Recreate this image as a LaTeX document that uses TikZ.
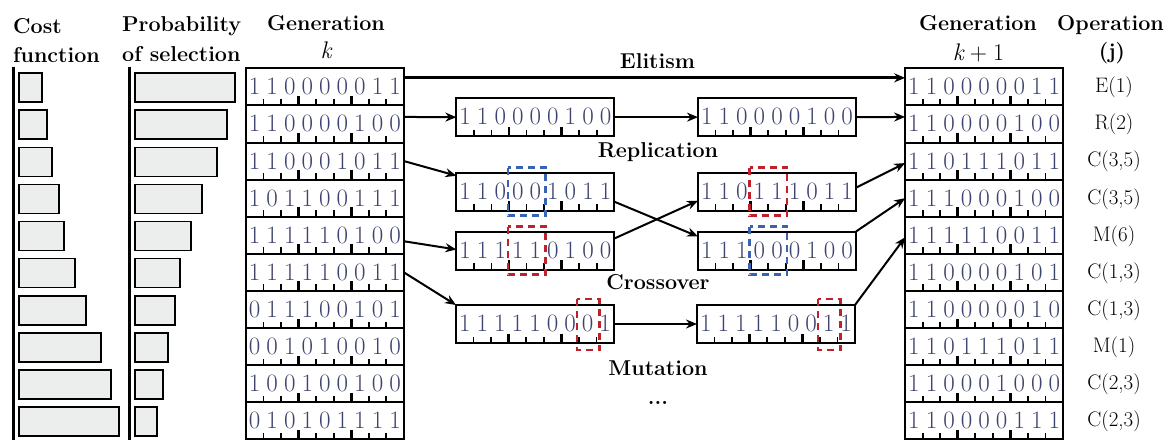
\documentclass[tikz,border=0pt]{standalone}
\usetikzlibrary{arrows.meta,calc,backgrounds}

\definecolor{digit}{RGB}{62,68,112}
\definecolor{barfill}{RGB}{236,237,237}
\definecolor{swapfill}{RGB}{196,199,229}
\definecolor{flipfill}{RGB}{172,212,164}
\definecolor{cutred}{RGB}{190,32,44}
\definecolor{cutblue}{RGB}{56,98,178}

\tikzset{
  chrom/.style={draw, line width=2pt, rectangle, minimum width=158pt,
    minimum height=37.1pt, inner sep=0pt, outer sep=0pt},
  midchrom/.style={chrom, minimum height=38pt},
  bit/.style={text=digit, font=\fontsize{25}{25}\selectfont, inner sep=0pt, anchor=base},
  tick/.style={line width=1.8pt},
  bar/.style={draw, fill=barfill, line width=1.8pt},
  axisline/.style={line width=3pt},
  head/.style={font=\bfseries\fontsize{21.5}{25}\selectfont, inner sep=0pt},
  mathhead/.style={font=\itshape\fontsize{24}{26}\selectfont, inner sep=0pt, anchor=base},
  opname/.style={font=\fontsize{21}{24}\selectfont, inner sep=0pt, anchor=base},
  stage/.style={font=\bfseries\fontsize{21.5}{25}\selectfont, inner sep=0pt, anchor=base},
  link/.style={line width=2pt, -{Stealth[length=11pt,width=9pt]}},
  cutA/.style={draw=cutred, line width=2.6pt, dash pattern=on 7pt off 5pt},
  cutB/.style={draw=cutblue, line width=2.6pt, dash pattern=on 7pt off 5pt},
}

% a chromosome: framed box, nine bits and a ruler of ticks along its bottom edge
\newcommand\chromosome[4][chrom]{%
  \node[#1] (#2) at (#3) {};
  \foreach \b [count=\i from 0] in {#4}
    \node[bit] at ($(#2.north west)+(8.8+17.55*\i,26.5)$) {\b};
  \foreach \j in {1,2,4,5,7,8}
    \draw[tick] ($(#2.south west)+(17.55*\j,0)$) -- ++(0,-6.5);
  \foreach \j in {3,6}
    \draw[tick, line width=2.8pt] ($(#2.south west)+(17.55*\j,0)$) -- ++(0,-9.5);
}

% shaded cell number #2 (from 0) inside chromosome #1
\newcommand\cellfill[3]{%
  \fill[#3] ($(#1.north west)+(17.55*#2+1,1)$) rectangle ($(#1.south west)+(17.55*#2+16.55,-1)$);
}

\begin{document}
\begin{tikzpicture}[x=1pt,y=-1pt]
\useasboundingbox (0,0) rectangle (1172,439);
\fill[white] (0,0) rectangle (1172,439);

% column headers
\node[head, anchor=base west] (hcostA) at (13,33) {Cost};
\node[head, anchor=base west] (hcostB) at (13,62.5) {function};
\node[head, anchor=base west] (hprobA) at (122,31) {Probability};
\node[head, anchor=base west] (hprobB) at (122,61.5) {of selection};
\node[head, anchor=base] (hgenA) at (326,30.7) {Generation};
\node[mathhead] (hgenB) at (326,58.5) {k};
\node[head, anchor=base] (hnextA) at (978,30.7) {Generation};
\node[mathhead] (hnextB) at (978.5,60) {k\hspace{0.25em}\upshape+\hspace{0.25em}1};
\node[head, anchor=base] (hopA) at (1110.5,30) {Operation};
\node[head, anchor=base] (hopB) at (1112,58) {(j)};

% cost and probability bar charts
\draw[axisline] (13.5,66.5) -- (13.5,441);
\draw[axisline] (129,66.5) -- (129,441);
\foreach \w [count=\i from 0] in {42,47,52,59,64,75,86,101,111,119}
  \draw[bar] (19,73.3+37.05*\i) rectangle (\w,102.3+37.05*\i);
\foreach \w [count=\i from 0] in {235,227,217,202,191,180,175,168,163,157}
  \draw[bar] (134.7,73.3+37.05*\i) rectangle (\w,102.3+37.05*\i);

% generation k
\chromosome{k1}{324.85,86.85}{1,1,0,0,0,0,0,1,1}
\chromosome{k2}{324.85,123.95}{1,1,0,0,0,0,1,0,0}
\chromosome{k3}{324.85,161.05}{1,1,0,0,0,1,0,1,1}
\chromosome{k4}{324.85,198.15}{1,0,1,1,0,0,1,1,1}
\chromosome{k5}{324.85,235.25}{1,1,1,1,1,0,1,0,0}
\chromosome{k6}{324.85,272.35}{1,1,1,1,1,0,0,1,1}
\chromosome{k7}{324.85,309.45}{0,1,1,1,0,0,1,0,1}
\chromosome{k8}{324.85,346.55}{0,0,1,0,1,0,0,1,0}
\chromosome{k9}{324.85,383.65}{1,0,0,1,0,0,1,0,0}
\chromosome{k10}{324.85,420.75}{0,1,0,1,0,1,1,1,1}

% generation k+1
\chromosome{n1}{984.15,86.85}{1,1,0,0,0,0,0,1,1}
\chromosome{n2}{984.15,123.95}{1,1,0,0,0,0,1,0,0}
\chromosome{n3}{984.15,161.05}{1,1,0,1,1,1,0,1,1}
\chromosome{n4}{984.15,198.15}{1,1,1,0,0,0,1,0,0}
\chromosome{n5}{984.15,235.25}{1,1,1,1,1,0,0,1,1}
\chromosome{n6}{984.15,272.35}{1,1,0,0,0,0,1,0,1}
\chromosome{n7}{984.15,309.45}{1,1,0,0,0,0,0,1,0}
\chromosome{n8}{984.15,346.55}{1,1,0,1,1,1,0,1,1}
\chromosome{n9}{984.15,383.65}{1,1,0,0,0,1,0,0,0}
\chromosome{n10}{984.15,420.75}{1,1,0,0,0,0,1,1,1}

% operations that produced each new chromosome
\node[opname] (op1) at (1114,92.5) {E(1)};
\node[opname] (op2) at (1114,129.8) {R(2)};
\node[opname] (op3) at (1114,166.9) {C(3,5)};
\node[opname] (op4) at (1114,204) {C(3,5)};
\node[opname] (op5) at (1114,241.3) {M(6)};
\node[opname] (op6) at (1114,278.3) {C(1,3)};
\node[opname] (op7) at (1114,315.4) {C(1,3)};
\node[opname] (op8) at (1114,352.5) {M(1)};
\node[opname] (op9) at (1114,389.6) {C(2,3)};
\node[opname] (op10) at (1114,426.7) {C(2,3)};

% intermediate chromosomes of the genetic operators
\chromosome[midchrom]{rep1}{535.35,117.15}{1,1,0,0,0,0,1,0,0}
\chromosome[midchrom]{rep2}{777,117.15}{1,1,0,0,0,0,1,0,0}
\chromosome[midchrom]{xa}{535.35,191.7}{1,1,0,0,0,1,0,1,1}
\chromosome[midchrom]{xb}{535.35,250.5}{1,1,1,1,1,0,1,0,0}
\chromosome[midchrom]{xc}{777,191.7}{1,1,0,1,1,1,0,1,1}
\chromosome[midchrom]{xd}{777,250.5}{1,1,1,0,0,0,1,0,0}
\chromosome[midchrom]{mut1}{535,324}{1,1,1,1,1,0,0,0,1}
\chromosome[midchrom]{mut2}{776,324}{1,1,1,1,1,0,0,1,1}

% shaded bits that were exchanged or flipped
\begin{pgfonlayer}{background}
  \cellfill{xc}{3}{swapfill}
  \cellfill{xc}{4}{swapfill}
  \cellfill{xd}{3}{swapfill}
  \cellfill{xd}{4}{swapfill}
  \cellfill{n3}{3}{swapfill}
  \cellfill{n3}{4}{swapfill}
  \cellfill{n4}{3}{swapfill}
  \cellfill{n4}{4}{swapfill}
  \cellfill{mut2}{7}{flipfill}
  \cellfill{n5}{7}{flipfill}
\end{pgfonlayer}

% dashed frames around the crossover segments and the mutated bit
\draw[cutB] ($(xa.north west)+(51.5,-5)$) rectangle ($(xa.south west)+(89,5)$);
\draw[cutA] ($(xb.north west)+(51.5,-5)$) rectangle ($(xb.south west)+(89,5)$);
\draw[cutA] ($(xc.north west)+(51.5,-5)$) rectangle ($(xc.south west)+(89,5)$);
\draw[cutB] ($(xd.north west)+(51.5,-5)$) rectangle ($(xd.south west)+(89,5)$);
\draw[cutA] ($(mut1.north west)+(121,-6)$) rectangle ($(mut1.south west)+(143.5,7)$);
\draw[cutA] ($(mut2.north west)+(121,-6)$) rectangle ($(mut2.south west)+(143.5,7)$);

% operator names
\node[stage] (lelit) at (657.5,68) {Elitism};
\node[stage] (lrep) at (658,157.3) {Replication};
\node[stage] (lcross) at (658,289) {Crossover};
\node[stage] (lmut) at (658,375) {Mutation};
\node[stage] (ldots) at (658,404) {...};

% elitism
\draw[link, line width=2.8pt] ([yshift=9pt]k1.east) -- ([yshift=9pt]n1.west);
% replication
\draw[link] ([yshift=7pt]k2.east) -- (rep1.west);
\draw[link] (rep1.east) -- (rep2.west);
\draw[link] (rep2.east) -- ([yshift=7pt]n2.west);
% crossover
\draw[link] (k3.east) -- ([yshift=16pt]xa.west);
\draw[link] ([yshift=-6pt]k5.east) -- ([yshift=1pt]xb.west);
\draw[link] ([yshift=-10pt]xa.east) -- ([yshift=14pt]xd.west);
\draw[link] ([yshift=12pt]xb.east) -- ([yshift=-9pt]xc.west);
\draw[link] ([yshift=4pt]xc.east) -- ([yshift=-2pt]n3.west);
\draw[link] (xd.north east) -- (n4.west);
% mutation
\draw[link] (k6.east) -- (mut1.north west);
\draw[link] (mut1.east) -- (mut2.west);
\draw[link] (mut2.north east) -- ([yshift=-2pt]n5.west);
\end{tikzpicture}
\end{document}
